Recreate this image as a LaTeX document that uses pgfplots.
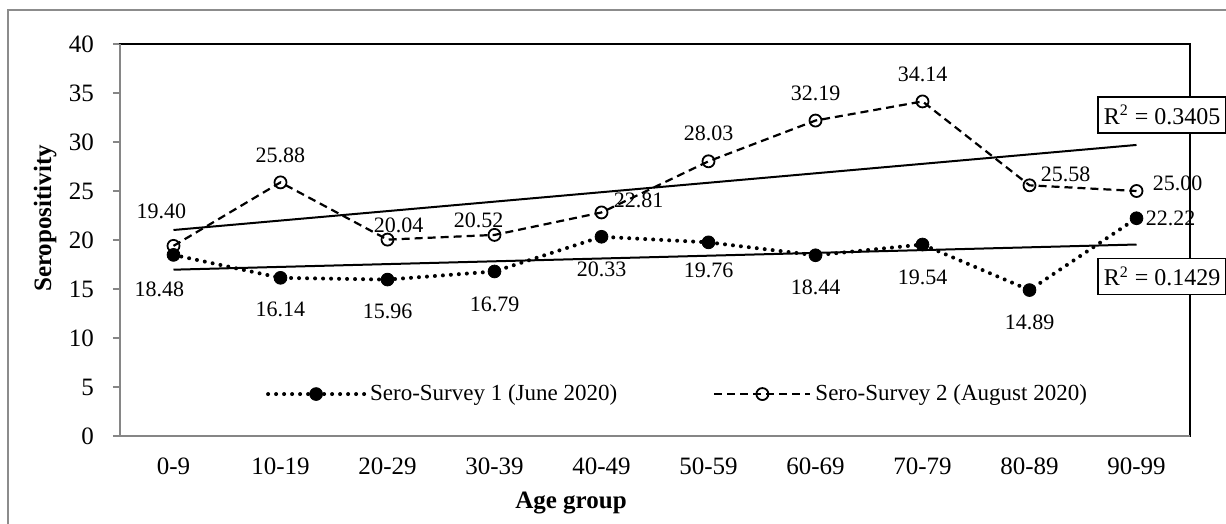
\documentclass[border=0pt]{standalone}
\usepackage{fontspec}
\setmainfont{Liberation Serif}
\usepackage{pgfplots}
\pgfplotsset{compat=1.18}
\definecolor{axgray}{HTML}{868686}
\definecolor{framegray}{HTML}{8C8C8C}
\begin{document}
\begin{tikzpicture}
\useasboundingbox (-60pt,-44pt) rectangle (553pt,218pt);
\draw[framegray, line width=0.8pt] (-56pt,-60pt) -- (-56pt,213pt) -- (600pt,213pt);
\begin{axis}[
  scale only axis, width=535pt, height=196pt,
  at={(0,0)}, anchor=south west,
  xmin=0.5, xmax=10.5, ymin=0, ymax=40,
  xtick={1,2,3,4,5,6,7,8,9,10},
  xticklabels={0-9,10-19,20-29,30-39,40-49,50-59,60-69,70-79,80-89,90-99},
  minor xtick={0.5,1.5,2.5,3.5,4.5,5.5,6.5,7.5,8.5,9.5,10.5},
  ytick={0,5,10,15,20,25,30,35,40},
  xtick pos=bottom, ytick pos=left,
  tick align=outside, major tick length=3.5pt, minor tick length=3.5pt,
  xtick style={draw=none},
  minor x tick style={axgray, line width=0.8pt},
  ytick style={axgray, line width=0.8pt},
  axis line style={black, line width=0.8pt},
  tick label style={font=\fontsize{12.5}{15}\selectfont},
  xticklabel style={yshift=-4pt},
  yticklabel style={xshift=-6pt},
  /pgf/number format/assume math mode=true,
  xlabel={\textbf{Age group}},
  ylabel={\textbf{Seropositivity}},
  label style={font=\fontsize{12.5}{15}\selectfont},
  xlabel style={at={(axis description cs:0.4215,-0.172)}, anchor=center},
  ylabel style={at={(axis description cs:-0.07,0.555)}, anchor=center},
  clip=false,
  legend style={at={(0.522,0.107)}, anchor=center, draw=none, fill=none,
    font=\fontsize{11.5}{13}\selectfont,
    /tikz/every even column/.append style={column sep=46pt}},
  legend columns=2,
  legend cell align=left,
  legend image code/.code={\draw[mark repeat=2,mark phase=2,#1] plot coordinates {(0pt,0pt) (24pt,0pt) (48pt,0pt)};},
]
% trend lines
\addplot[black, line width=1pt, forget plot] coordinates {(1,21.02) (10,29.70)};
\addplot[black, line width=1pt, forget plot] coordinates {(1,16.97) (10,19.54)};
% series
\addplot[black, line width=2pt, dash pattern=on 0pt off 4pt, line cap=round,
  mark=*, mark size=3.2pt, mark options={solid, line width=0.4pt, fill=black}]
  coordinates {(1,18.48) (2,16.14) (3,15.96) (4,16.79) (5,20.33) (6,19.76) (7,18.44) (8,19.54) (9,14.89) (10,22.22)};
\addlegendentry{Sero-Survey 1 (June 2020)}
\addplot[black, line width=1.1pt, dash pattern=on 4pt off 2.5pt,
  mark=o, mark size=3pt, mark options={solid, fill=white, line width=0.9pt}]
  coordinates {(1,19.40) (2,25.88) (3,20.04) (4,20.52) (5,22.81) (6,28.03) (7,32.19) (8,34.14) (9,25.58) (10,25.00)};
\addlegendentry{Sero-Survey 2 (August 2020)}
% data labels
\begin{scope}[every node/.style={font=\fontsize{11}{13}\selectfont, inner sep=0pt}]
\node at (axis cs:1,19.40) [xshift=-6pt, yshift=17.5pt] {19.40};
\node at (axis cs:2,25.88) [yshift=13.5pt] {25.88};
\node at (axis cs:3,20.04) [xshift=5.5pt, yshift=7pt] {20.04};
\node at (axis cs:4,20.52) [xshift=-8pt, yshift=7.5pt] {20.52};
\node at (axis cs:5,22.81) [xshift=18.5pt, yshift=6pt] {22.81};
\node at (axis cs:6,28.03) [yshift=14pt] {28.03};
\node at (axis cs:7,32.19) [yshift=13.75pt] {32.19};
\node at (axis cs:8,34.14) [yshift=13.5pt] {34.14};
\node at (axis cs:9,25.58) [xshift=18pt, yshift=5.5pt] {25.58};
\node at (axis cs:10,25.00) [xshift=20.5pt, yshift=4pt] {25.00};
\node at (axis cs:1,18.48) [xshift=-7pt, yshift=-17pt] {18.48};
\node at (axis cs:2,16.14) [yshift=-16pt] {16.14};
\node at (axis cs:3,15.96) [yshift=-16pt] {15.96};
\node at (axis cs:4,16.79) [yshift=-16.5pt] {16.79};
\node at (axis cs:5,20.33) [yshift=-16.5pt] {20.33};
\node at (axis cs:6,19.76) [yshift=-14pt] {19.76};
\node at (axis cs:7,18.44) [yshift=-16pt] {18.44};
\node at (axis cs:8,19.54) [yshift=-16.5pt] {19.54};
\node at (axis cs:9,14.89) [yshift=-16pt] {14.89};
\node at (axis cs:10,22.22) [xshift=17pt] {22.22};
\end{scope}
% R^2 boxes
\node[draw=black, line width=0.8pt, fill=white, minimum width=64pt, minimum height=18pt, inner sep=2pt,
  font=\fontsize{12}{14}\selectfont] at (axis cs:10.24,32.76) {R\textsuperscript{2} = 0.3405};
\node[draw=black, line width=0.8pt, fill=white, minimum width=64pt, minimum height=18pt, inner sep=2pt,
  font=\fontsize{12}{14}\selectfont] at (axis cs:10.24,16.28) {R\textsuperscript{2} = 0.1429};
\end{axis}
\draw[axgray, line width=0.8pt] (0pt,196pt) -- (0pt,0pt) -- (535pt,0pt);
\end{tikzpicture}
\end{document}
